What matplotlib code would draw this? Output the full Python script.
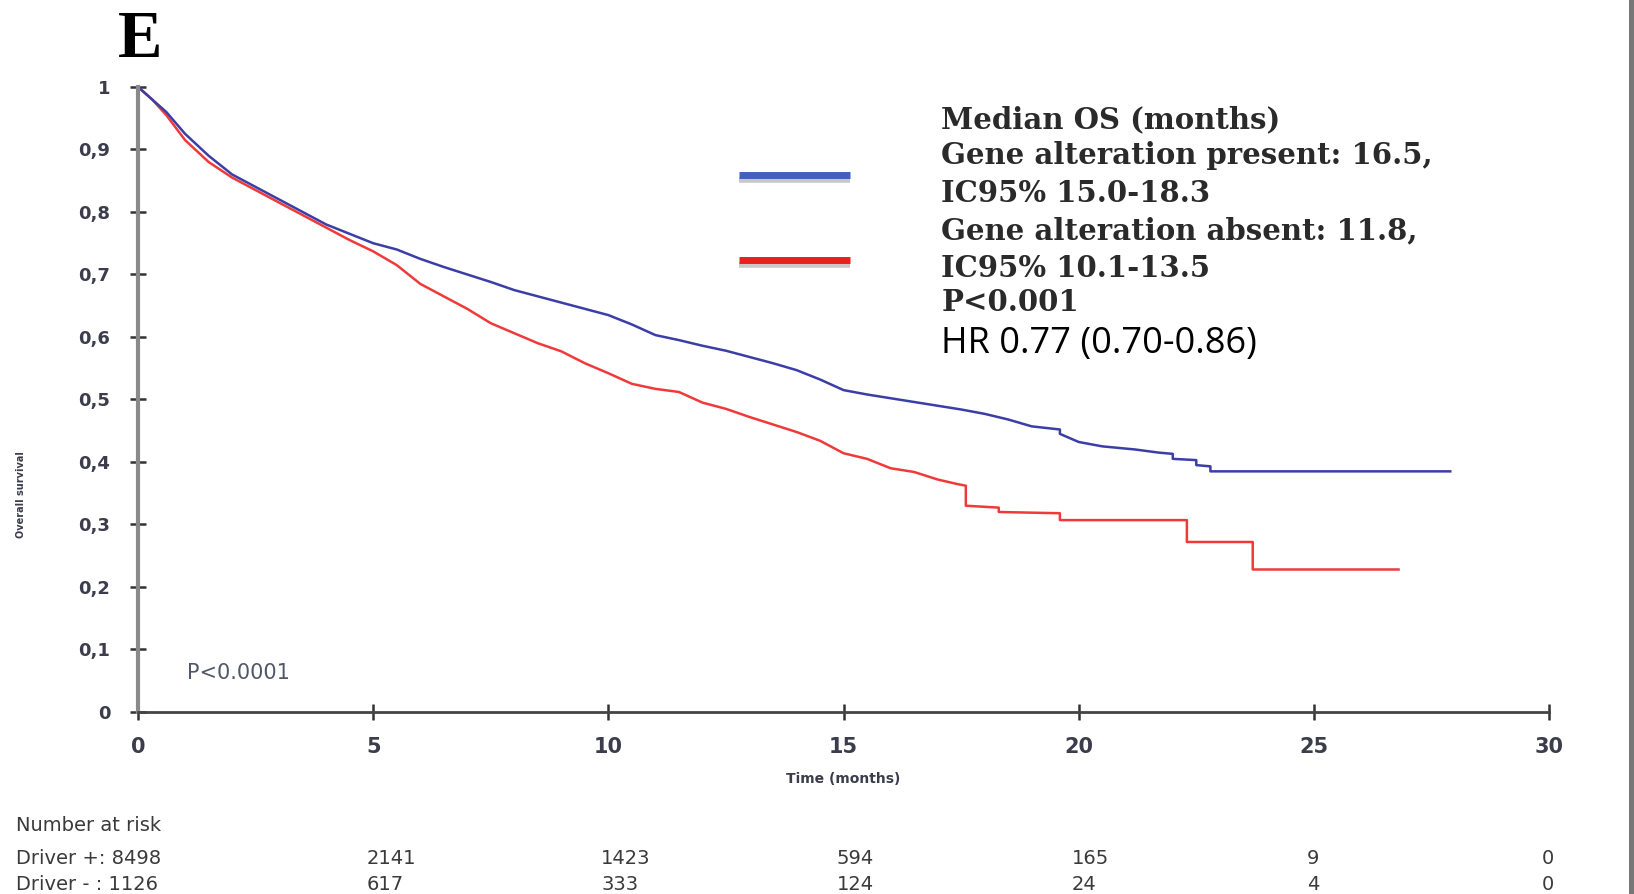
import numpy as np
import matplotlib.pyplot as plt
from matplotlib.patches import Rectangle
import matplotlib.transforms as mtransforms

# Kaplan-Meier curves (repeated times = visible drops in the tail)
t_pos = [0, 0.3, 0.6, 1.0, 1.5, 2.0, 2.5, 3.0, 3.5, 4.0, 4.5, 5.0, 5.5, 6.0, 6.5, 7.0, 7.5, 8.0,
         8.5, 9.0, 9.5, 10.0, 10.5, 11.0, 11.5, 12.0, 12.5, 13.0, 13.5, 14.0, 14.5, 15.0, 15.5,
         16.0, 16.5, 17.0, 17.5, 18.0, 18.5, 19.0, 19.6, 19.6, 20.0, 20.5, 21.2, 21.7, 22.0,
         22.0, 22.5, 22.5, 22.8, 22.8, 27.9]
s_pos = [1.0, 0.98, 0.96, 0.925, 0.89, 0.86, 0.84, 0.82, 0.80, 0.78, 0.765, 0.75, 0.74, 0.725,
         0.712, 0.70, 0.688, 0.675, 0.665, 0.655, 0.645, 0.635, 0.62, 0.603, 0.595, 0.586, 0.578,
         0.568, 0.558, 0.547, 0.532, 0.515, 0.508, 0.502, 0.496, 0.49, 0.484, 0.477, 0.468,
         0.457, 0.452, 0.445, 0.432, 0.425, 0.42, 0.415, 0.413, 0.405, 0.403, 0.395, 0.393,
         0.385, 0.385]

t_neg = [0, 0.3, 0.6, 1.0, 1.5, 2.0, 2.5, 3.0, 3.5, 4.0, 4.5, 5.0, 5.5, 6.0, 6.5, 7.0, 7.5, 8.0,
         8.5, 9.0, 9.5, 10.0, 10.5, 11.0, 11.5, 12.0, 12.5, 13.0, 13.5, 14.0, 14.5, 15.0, 15.5,
         16.0, 16.5, 17.0, 17.4, 17.6, 17.6, 18.3, 18.3, 19.6, 19.6, 22.3, 22.3, 23.7, 23.7, 26.8]
s_neg = [1.0, 0.98, 0.955, 0.915, 0.88, 0.855, 0.835, 0.815, 0.795, 0.775, 0.755, 0.737, 0.715,
         0.685, 0.665, 0.645, 0.622, 0.606, 0.59, 0.577, 0.558, 0.542, 0.525, 0.517, 0.512,
         0.495, 0.485, 0.472, 0.46, 0.448, 0.434, 0.414, 0.405, 0.39, 0.384, 0.372, 0.365,
         0.362, 0.33, 0.327, 0.32, 0.318, 0.307, 0.307, 0.272, 0.272, 0.228, 0.228]

yticks = [0, 0.1, 0.2, 0.3, 0.4, 0.5, 0.6, 0.7, 0.8, 0.9, 1]
ytick_labels = ['0', '0,1', '0,2', '0,3', '0,4', '0,5', '0,6', '0,7', '0,8', '0,9', '1']
xticks = [0, 5, 10, 15, 20, 25, 30]

risk_times = [5, 10, 15, 20, 25, 30]
risk_pos = ['2141', '1423', '594', '165', '9', '0']
risk_neg = ['617', '333', '124', '24', '4', '0']

legend_lines = ['Median OS (months)',
                'Gene alteration present: 16.5,',
                'IC95% 15.0-18.3',
                'Gene alteration absent: 11.8,',
                'IC95% 10.1-13.5',
                'P<0.001']

blue = '#3b3ea6'
red = '#f03a3a'
tick_col = '#3c3c4c'
table_col = '#3a3a3a'

fig = plt.figure(figsize=(16.34, 8.94), dpi=100)
ax = fig.add_axes([0.0845, 0.2036, 0.8635, 0.6991])

ax.plot(t_neg, s_neg, color=red, lw=1.8)
ax.plot(t_pos, s_pos, color=blue, lw=1.8)

ax.set_xlim(0, 30)
ax.set_ylim(0, 1)
ax.set_xticks(xticks)
ax.set_yticks(yticks)
ax.set_yticklabels(ytick_labels)
for s in ['top', 'right']:
    ax.spines[s].set_visible(False)
ax.spines['left'].set_color('#8a8a8a')
ax.spines['left'].set_linewidth(3)
ax.spines['bottom'].set_color('#444444')
ax.spines['bottom'].set_linewidth(2)
ax.tick_params(axis='both', direction='inout', length=12, width=1.8, color='#333333',
               labelcolor=tick_col)
ax.tick_params(axis='y', pad=14, labelsize=13)
ax.tick_params(axis='x', pad=12, labelsize=15)
for lab in ax.get_xticklabels() + ax.get_yticklabels():
    lab.set_fontweight('bold')

ax.set_xlabel('Time (months)', fontsize=10, fontweight='bold', color=tick_col, labelpad=11)
fig.text(0.013, 0.447, 'Overall survival', rotation=90, fontsize=7, fontweight='bold',
         color=tick_col, ha='center', va='center')

ax.text(0.035, 0.052, 'P<0.0001', transform=ax.transAxes, fontsize=15, color='#505868')

# panel letter
fig.text(0.086, 0.955, 'E', fontsize=48, fontweight='bold', family='Liberation Serif',
         ha='center', va='center')

# legend swatches with shadow
for yy, col in [(0.804, '#4060c0'), (0.709, '#e82020')]:
    fig.add_artist(plt.Line2D([0.452, 0.52], [yy - 0.005, yy - 0.005], color='#c8c8c8',
                              lw=4, solid_capstyle='butt'))
    fig.add_artist(plt.Line2D([0.452, 0.52], [yy, yy], color=col, lw=5,
                              solid_capstyle='butt'))

ys = [0.866, 0.826, 0.783, 0.742, 0.700, 0.662]
for txt, yy in zip(legend_lines, ys):
    fig.text(0.576, yy, txt, fontsize=21, family='DejaVu Serif', fontweight='bold',
             color='#2a2a2a', va='center')
fig.text(0.576, 0.615, 'HR 0.77 (0.70-0.86)', fontsize=26, family='Open Sans',
         color='black', va='center')

# number at risk table
trans = mtransforms.blended_transform_factory(ax.transData, fig.transFigure)
fig.text(0.01, 0.071, 'Number at risk', fontsize=14, color=table_col)
fig.text(0.01, 0.033, 'Driver +: 8498', fontsize=14, color=table_col)
fig.text(0.01, 0.004, 'Driver - : 1126', fontsize=14, color=table_col)
for x, a, b in zip(risk_times, risk_pos, risk_neg):
    ax.text(x - 0.15, 0.033, a, transform=trans, fontsize=14, color=table_col, ha='left')
    ax.text(x - 0.15, 0.004, b, transform=trans, fontsize=14, color=table_col, ha='left')

# grey bar at right edge
fig.add_artist(Rectangle((0.9968, 0), 0.0032, 1, transform=fig.transFigure,
                         color='#777777', lw=0))

fig.savefig('out.png', dpi=100)
